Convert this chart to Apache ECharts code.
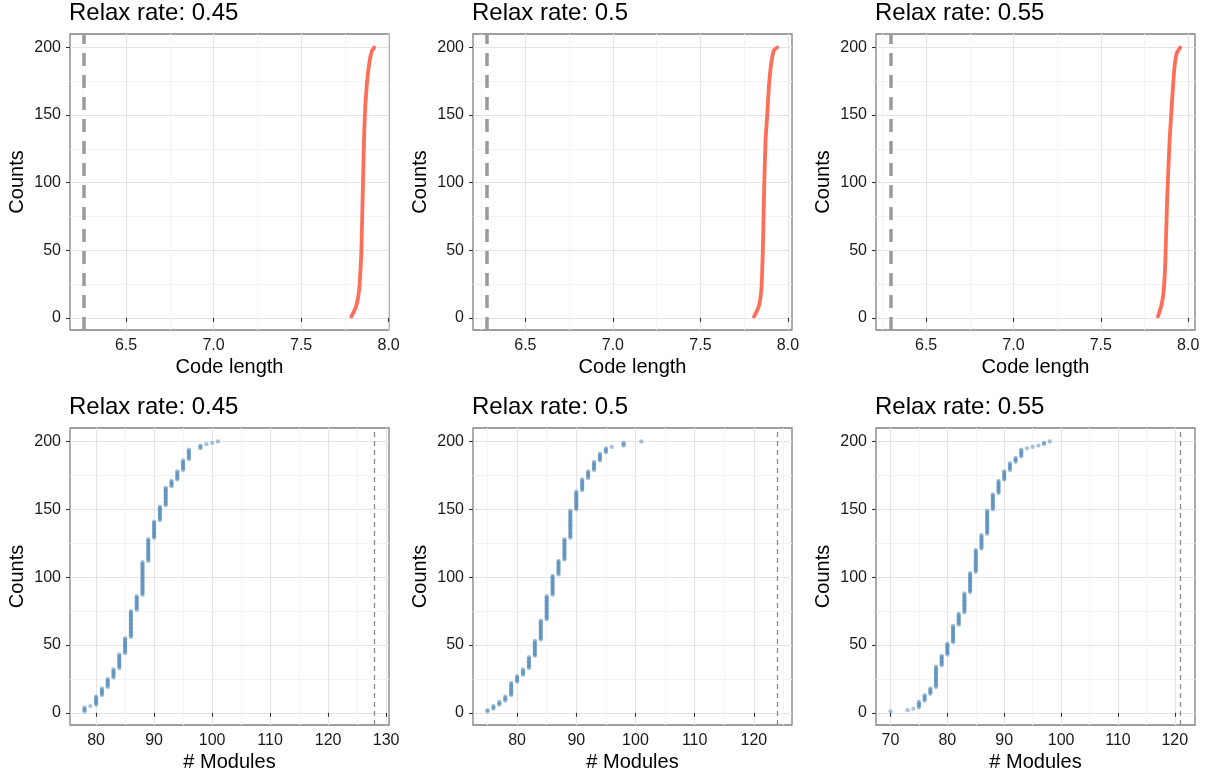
<!DOCTYPE html>
<html>
<head>
<meta charset="utf-8">
<script src="https://cdn.jsdelivr.net/npm/echarts@6/dist/echarts.min.js"></script>
<style>
html,body{margin:0;padding:0;background:#fff;}
#chart{width:1212px;height:776px;}
</style>
</head>
<body>
<div id="chart"></div>
<script>
// ---------- data ----------
const panelTitles = ['Relax rate: 0.45', 'Relax rate: 0.5', 'Relax rate: 0.55'];
const xNameTop = 'Code length';
const xNameBottom = '# Modules';
const yName = 'Counts';
const yTicks = [0, 50, 100, 150, 200];
const codeTicks = [6.5, 7.0, 7.5, 8.0];
const moduleTicks45 = [80, 90, 100, 110, 120, 130];
const moduleTicks50 = [80, 90, 100, 110, 120];
const moduleTicks55 = [70, 80, 90, 100, 110, 120];

// top row: sorted code lengths vs. cumulative count
const code45 = [7.787, 7.810, 7.824, 7.834, 7.844, 7.853, 7.860, 7.866, 7.875, 7.888, 7.903, 7.918];
const cnt45  = [1, 7, 14, 24, 48, 98, 135, 156, 172, 187, 197, 200];
const code50 = [7.806, 7.822, 7.835, 7.848, 7.857, 7.865, 7.872, 7.882, 7.891, 7.904, 7.920, 7.938];
const cnt50  = [1, 5, 9, 21, 53, 102, 132, 151, 171, 188, 198, 200];
const code55 = [7.827, 7.846, 7.859, 7.869, 7.880, 7.894, 7.903, 7.912, 7.922, 7.935, 7.954];
const cnt55  = [1, 9, 19, 41, 90, 132, 151, 169, 186, 196, 200];
const codeRef = [6.263, 6.284, 6.296];

// bottom row: number of modules, with the last cumulative count reached at each value
const mod45 = [78, 79, 80, 81, 82, 83, 84, 85, 86, 87, 88, 89, 90, 91, 92, 93, 94, 95, 96, 98, 99, 100, 101];
const end45 = [4, 5, 12, 18, 25, 32, 43, 55, 75, 86, 111, 128, 141, 152, 166, 171, 178, 186, 194, 197, 198, 199, 200];
const mod50 = [75, 76, 77, 78, 79, 80, 81, 82, 83, 84, 85, 86, 87, 88, 89, 90, 91, 92, 93, 94, 95, 96, 98, 101];
const end50 = [2, 5, 8, 12, 22, 27, 32, 41, 53, 68, 86, 101, 112, 128, 149, 163, 172, 178, 185, 191, 195, 196, 199, 200];
const mod55 = [70, 73, 74, 75, 76, 77, 78, 79, 80, 81, 82, 83, 84, 85, 86, 87, 88, 89, 90, 91, 92, 93, 94, 95, 96, 97, 98];
const end55 = [1, 2, 3, 8, 13, 18, 34, 42, 51, 64, 73, 88, 103, 120, 131, 149, 161, 171, 178, 184, 188, 194, 195, 196, 197, 199, 200];
const moduleRef = [128, 124, 121];

// ---------- build ----------
const FONT = '"Liberation Sans", Arial, Helvetica, sans-serif';
const pairs = (xs, ys) => xs.map((x, i) => [x, ys[i]]);
function runs(mods, ends) {
  const pts = [];
  let prev = 0;
  mods.forEach((m, i) => {
    for (let c = prev + 1; c <= ends[i]; c++) pts.push([m, c]);
    prev = ends[i];
  });
  return pts;
}

const colLeft = [70, 473, 876];
const colWidth = [319, 319, 319];
const rowTop = [34, 428];
const rowHeight = [296, 297];

const topData = [pairs(code45, cnt45), pairs(code50, cnt50), pairs(code55, cnt55)];
const botData = [runs(mod45, end45), runs(mod50, end50), runs(mod55, end55)];
const topRange = [[6.180, 8.002], [6.201, 8.023], [6.213, 8.039]];
const botRange = [[75.5, 130.5], [72.55, 126.45], [67.45, 123.55]];
const botTicks = [moduleTicks45, moduleTicks50, moduleTicks55];

const grids = [], xAxes = [], yAxes = [], series = [], titles = [];

function axisCommon() {
  return {
    axisLine: { show: false },
    splitLine: { show: true, lineStyle: { color: '#e4e4e4', width: 1.2 } },
    minorTick: { show: false, splitNumber: 2 },
    minorSplitLine: { show: true, lineStyle: { color: '#f4f4f4', width: 1 } },
    nameTextStyle: { fontSize: 20, color: '#000', fontFamily: FONT }
  };
}

for (let r = 0; r < 2; r++) {
  for (let c = 0; c < 3; c++) {
    const idx = r * 3 + c;
    grids.push({
      left: colLeft[c], top: rowTop[r], width: colWidth[c], height: rowHeight[r],
      show: true, borderColor: '#808080', borderWidth: 1.3, backgroundColor: '#fff'
    });
    titles.push({
      text: panelTitles[c], left: colLeft[c] - 1, top: r === 0 ? 1 : 395, padding: 0,
      textStyle: { fontSize: 24, fontWeight: 'normal', color: '#000', fontFamily: FONT }
    });
    const range = r === 0 ? topRange[c] : botRange[c];
    const xt = r === 0 ? codeTicks : botTicks[c];
    xAxes.push(Object.assign(axisCommon(), {
      gridIndex: idx, type: 'value', min: range[0], max: range[1],
      splitNumber: r === 0 ? 4 : 5,
      name: r === 0 ? xNameTop : xNameBottom, nameLocation: 'middle', nameGap: 27,
      axisTick: { show: true, length: 4, lineStyle: { color: '#333', width: 1.1 }, customValues: xt },
      axisLabel: {
        customValues: xt, fontSize: 16, color: '#1a1a1a', margin: 8, fontFamily: FONT,
        formatter: r === 0 ? (v => Number(v).toFixed(1)) : (v => String(Math.round(v)))
      }
    }));
    yAxes.push(Object.assign(axisCommon(), {
      gridIndex: idx, type: 'value', min: -8.95, max: 209.95, splitNumber: 4,
      name: yName, nameLocation: 'middle', nameGap: 43,
      axisTick: { show: true, length: 4, lineStyle: { color: '#333', width: 1.1 }, customValues: yTicks },
      axisLabel: { customValues: yTicks, fontSize: 16, color: '#1a1a1a', margin: 9, fontFamily: FONT,
        formatter: v => String(Math.round(v)) }
    }));
    if (r === 0) {
      series.push({
        type: 'line', xAxisIndex: idx, yAxisIndex: idx, data: topData[c],
        smooth: 0.12, showSymbol: false, symbol: 'none', silent: true,
        lineStyle: { color: '#ff6e58', width: 3.8, cap: 'round', join: 'round' },
        markLine: {
          silent: true, symbol: ['none', 'none'], label: { show: false },
          lineStyle: { color: '#9a9a9a', width: 3.5, type: [13, 9] },
          data: [{ xAxis: codeRef[c] }]
        },
        z: 3
      });
    } else {
      series.push({
        type: 'scatter', xAxisIndex: idx, yAxisIndex: idx, data: botData[c],
        symbol: 'circle', symbolSize: 4.3, silent: true,
        itemStyle: { color: 'rgba(70,130,180,0.6)' },
        markLine: {
          silent: true, symbol: ['none', 'none'], label: { show: false },
          lineStyle: { color: '#8c8c8c', width: 1.3, type: [5, 4] },
          data: [{ xAxis: moduleRef[c] }]
        },
        z: 3
      });
    }
  }
}

const chart = echarts.init(document.getElementById('chart'), null, { renderer: 'canvas' });
chart.setOption({
  animation: false,
  backgroundColor: '#fff',
  title: titles,
  grid: grids,
  xAxis: xAxes,
  yAxis: yAxes,
  series: series
});
</script>
</body>
</html>
